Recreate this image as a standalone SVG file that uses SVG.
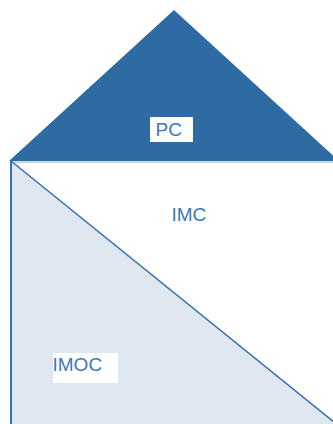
<svg xmlns="http://www.w3.org/2000/svg" width="333" height="424" viewBox="0 0 333 424">
<style>
.lbl{font-family:"Liberation Sans",Arial,sans-serif;font-size:19px;fill:#3c78b5}
.box{fill:#ffffff}
</style>
<rect width="333" height="424" fill="#ffffff"/>
<g id="PC">
<polygon points="9,161 174,10 339,161" fill="#2e6ba3"/>
<line x1="10" y1="162" x2="333" y2="162" stroke="#8fb0d4" stroke-width="1"/>
<rect class="box" x="150" y="117" width="43" height="25"/>
<text class="lbl" x="155.5" y="135.5">PC</text>
</g>
<g id="IMOC">
<polygon points="11,161 334,422 334,424 11,424" fill="#dfe7f1"/>
<rect class="box" x="53" y="353" width="65" height="30"/>
<text class="lbl" x="52.5" y="371">IMOC</text>
</g>
<g id="IMC">
<text class="lbl" x="171.5" y="221">IMC</text>
</g>
<g id="connectors" stroke="#3a71ae" fill="none">
<line x1="11" y1="161" x2="11" y2="424" stroke-width="2"/>
<line x1="11" y1="161" x2="334" y2="422" stroke-width="1.6"/>
</g>
</svg>
